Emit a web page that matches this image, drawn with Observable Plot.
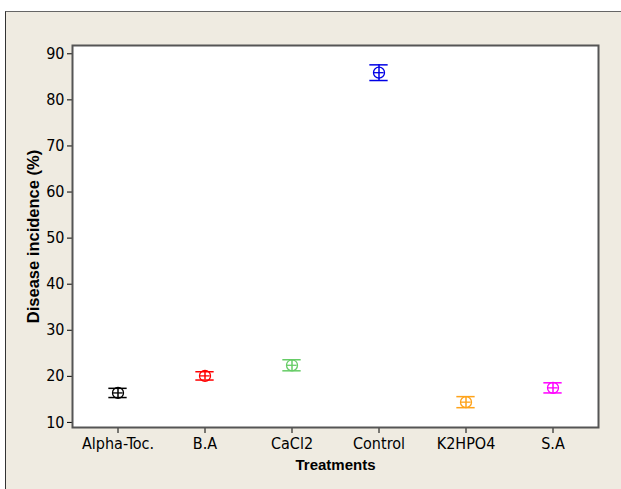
<!DOCTYPE html>
<html>
<head>
<meta charset="utf-8">
<script src="https://cdn.jsdelivr.net/npm/d3@7"></script>
<script src="https://cdn.jsdelivr.net/npm/@observablehq/plot@0.6"></script>
<style>
  html, body { margin: 0; padding: 0; background: #ffffff; }
  #panel {
    position: absolute; left: 5px; top: 11px; width: 616px; height: 478px;
    background: #efebe1; border-left: 1px solid #333; border-top: 1px solid #666;
    box-sizing: border-box;
  }
  #chart { position: absolute; left: 0; top: 0; }
  #chart svg { background: transparent; overflow: visible; }
</style>
</head>
<body>
<div id="panel"></div>
<div id="chart"></div>
<script>
// Disease incidence (%) per treatment: mean and half-width of the interval bar
const treatments = ["Alpha-Toc.", "B.A", "CaCl2", "Control", "K2HPO4", "S.A"];
const means = [16.4, 20.1, 22.4, 85.9, 14.4, 17.5];
const errors = [1.0, 0.9, 1.2, 1.7, 1.2, 1.1];
const colors = ["#000000", "#ff0000", "#66cc66", "#0000e6", "#ffa31a", "#ff00ff"];
const yTicks = [10, 20, 30, 40, 50, 60, 70, 80, 90];

const data = treatments.map((t, i) => ({
  treatment: t,
  mean: means[i],
  lo: means[i] - errors[i],
  hi: means[i] + errors[i],
  color: colors[i]
}));

const W = 621, H = 489;
const mL = 72, mR = 23, mT = 45, mB = 62;
const band = (W - mL - mR) / treatments.length;
const capInset = (band - 19) / 2;
const crossInset = (band - 11) / 2;

const tickFont = "'Liberation Sans Narrow', 'DejaVu Sans Condensed', sans-serif";
const labelFont = "'Liberation Sans', Arial, sans-serif";

const chart = Plot.plot({
  width: W,
  height: H,
  marginLeft: mL,
  marginRight: mR,
  marginTop: mT,
  marginBottom: mB,
  style: { fontFamily: tickFont, fontSize: "16px", color: "#000", background: "transparent" },
  x: { type: "band", domain: treatments, paddingInner: 0, paddingOuter: 0 },
  y: { domain: [8.9, 91.8] },
  marks: [
    Plot.frame({ fill: "white", stroke: "none" }),
    Plot.axisY({ ticks: yTicks, tickSize: 5, tickPadding: 3, label: null, stroke: "#000", fontSize: 16 }),
    Plot.axisX({ tickSize: 6, tickPadding: 4, label: null, stroke: "#000", fontSize: 16 }),
    // interval bars
    Plot.ruleX(data, { x: "treatment", y1: "lo", y2: "hi", stroke: "color", strokeWidth: 1.5 }),
    Plot.tickY(data, { x: "treatment", y: "lo", stroke: "color", strokeWidth: 1.5, insetLeft: capInset, insetRight: capInset }),
    Plot.tickY(data, { x: "treatment", y: "hi", stroke: "color", strokeWidth: 1.5, insetLeft: capInset, insetRight: capInset }),
    // mean symbol: circle with cross
    Plot.dot(data, { x: "treatment", y: "mean", r: 5.5, stroke: "color", strokeWidth: 1.3, fill: "none" }),
    Plot.tickY(data, { x: "treatment", y: "mean", stroke: "color", strokeWidth: 1.3, insetLeft: crossInset, insetRight: crossInset }),
    Plot.frame({ stroke: "#555", strokeWidth: 2 }),
    // axis titles
    Plot.text(["Disease incidence (%)"], {
      frameAnchor: "left", dx: -39, rotate: -90, textAnchor: "middle",
      fontWeight: "bold", fontSize: 16.5, fontFamily: labelFont, fill: "#000"
    }),
    Plot.text(["Treatments"], {
      frameAnchor: "bottom", dy: 38, lineAnchor: "middle", textAnchor: "middle",
      fontWeight: "bold", fontSize: 15, fontFamily: labelFont, fill: "#000"
    })
  ]
});

document.getElementById("chart").appendChild(chart);
</script>
</body>
</html>
